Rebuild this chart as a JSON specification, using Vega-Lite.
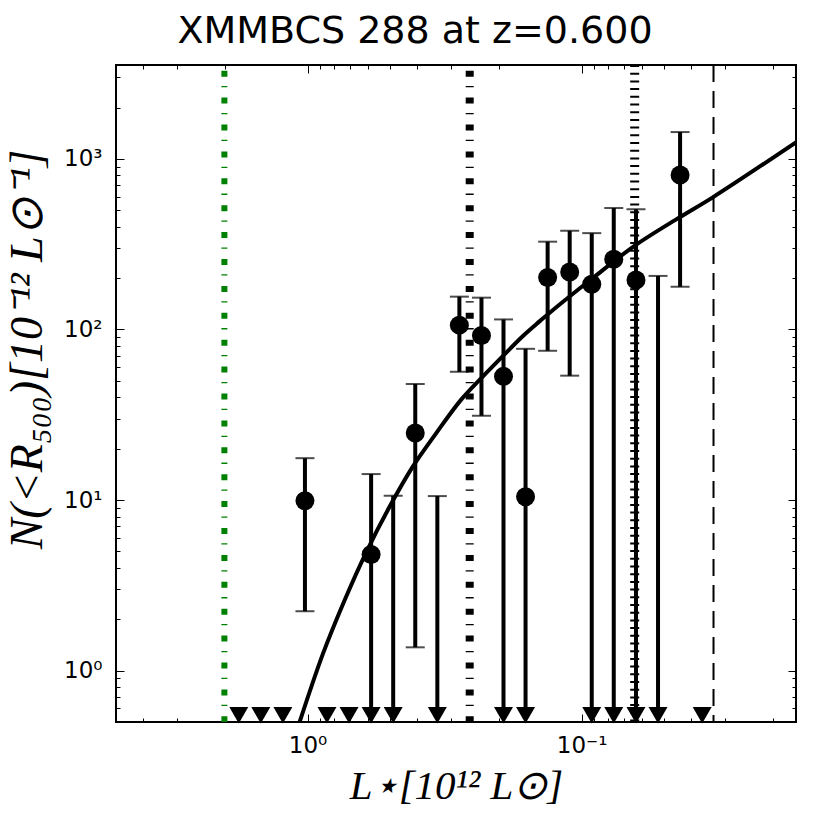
{
  "$schema": "https://vega.github.io/schema/vega-lite/v6.json",
  "autosize": {"type": "none"},
  "width": 680,
  "height": 657,
  "padding": {"left": 116, "top": 65, "right": 34, "bottom": 108},
  "background": "white",
  "config": {"view": {"stroke": "black", "strokeWidth": 2}},
  "title": {"text": "XMMBCS 288 at z=0.600", "font": "DejaVu Sans", "fontSize": 38, "fontWeight": "normal", "color": "black", "anchor": "middle", "frame": "group", "dx": -41, "dy": 40, "offset": 20, "baseline": "alphabetic"},
  "datasets": {
    "bins": [
      {"L": 1.782, "N": null, "lo": 0.547, "hi": null, "arrow": true},
      {"L": 1.481, "N": null, "lo": 0.547, "hi": null, "arrow": true},
      {"L": 1.230, "N": null, "lo": 0.547, "hi": null, "arrow": true},
      {"L": 1.022, "N": 9.9, "lo": 2.23, "hi": 17.6, "arrow": false},
      {"L": 0.8492, "N": null, "lo": 0.547, "hi": null, "arrow": true},
      {"L": 0.7055, "N": null, "lo": 0.547, "hi": null, "arrow": true},
      {"L": 0.5861, "N": 4.8, "lo": 0.547, "hi": 14.2, "arrow": true},
      {"L": 0.4869, "N": null, "lo": 0.547, "hi": 10.6, "arrow": true},
      {"L": 0.4045, "N": 24.7, "lo": 1.37, "hi": 47.9, "arrow": false},
      {"L": 0.3360, "N": null, "lo": 0.547, "hi": 10.55, "arrow": true},
      {"L": 0.2792, "N": 106, "lo": 56.5, "hi": 155.7, "arrow": false},
      {"L": 0.2319, "N": 92.2, "lo": 31.2, "hi": 153.6, "arrow": false},
      {"L": 0.1927, "N": 53.1, "lo": 0.547, "hi": 114.5, "arrow": true},
      {"L": 0.1601, "N": 10.46, "lo": 0.547, "hi": 77, "arrow": true},
      {"L": 0.1330, "N": 201.5, "lo": 75, "hi": 327, "arrow": false},
      {"L": 0.1105, "N": 217, "lo": 53.6, "hi": 379, "arrow": false},
      {"L": 0.0918, "N": 184.3, "lo": 0.547, "hi": 367, "arrow": true},
      {"L": 0.0763, "N": 258, "lo": 0.547, "hi": 515, "arrow": true},
      {"L": 0.0633, "N": 195, "lo": 0.547, "hi": 506, "arrow": true},
      {"L": 0.0526, "N": null, "lo": 0.547, "hi": 206, "arrow": true},
      {"L": 0.0437, "N": 805, "lo": 178, "hi": 1436, "arrow": false},
      {"L": 0.0363, "N": null, "lo": 0.547, "hi": null, "arrow": true}
    ],
    "fit": [
      {"L": 1.07, "N": 0.497},
      {"L": 0.879, "N": 1.254},
      {"L": 0.733, "N": 2.58},
      {"L": 0.614, "N": 4.86},
      {"L": 0.502, "N": 9.13},
      {"L": 0.413, "N": 15.7},
      {"L": 0.339, "N": 24.7},
      {"L": 0.275, "N": 38.8},
      {"L": 0.229, "N": 53.1},
      {"L": 0.194, "N": 69.7},
      {"L": 0.164, "N": 91.3},
      {"L": 0.142, "N": 111.9},
      {"L": 0.133, "N": 122.5},
      {"L": 0.0922, "N": 196.8},
      {"L": 0.0641, "N": 309},
      {"L": 0.0439, "N": 454},
      {"L": 0.0332, "N": 595},
      {"L": 0.01646, "N": 1254}
    ]
  },
  "layer": [
    {
      "data": {"values": [{"L": 2.011}]},
      "mark": {"type": "rule", "color": "#008000", "strokeWidth": 6, "strokeDash": [6, 9.3, 1.3, 10.3], "strokeDashOffset": 21.2, "strokeCap": "butt"},
      "encoding": {
        "x": {"field": "L", "type": "quantitative", "scale": {"type": "log", "domain": [0.0165, 5], "reverse": true, "nice": false}, "axis": null}
      }
    },
    {
      "data": {"values": [{"L": 0.256}]},
      "mark": {"type": "rule", "color": "black", "strokeWidth": 8, "strokeDash": [6, 9.3, 1.3, 10.3], "strokeDashOffset": 21.2, "strokeCap": "butt"},
      "encoding": {"x": {"field": "L", "type": "quantitative", "axis": null}}
    },
    {
      "data": {"values": [{"L": 0.064}]},
      "mark": {"type": "rule", "color": "black", "strokeWidth": 9, "strokeDash": [2, 5.7], "strokeCap": "butt"},
      "encoding": {"x": {"field": "L", "type": "quantitative", "axis": null}}
    },
    {
      "data": {"values": [{"L": 0.033}]},
      "mark": {"type": "rule", "color": "black", "strokeWidth": 2, "strokeDash": [17, 9], "strokeCap": "butt"},
      "encoding": {"x": {"field": "L", "type": "quantitative", "axis": null}}
    },
    {
      "data": {"name": "fit"},
      "mark": {"type": "line", "color": "black", "strokeWidth": 4, "clip": true, "interpolate": "catmull-rom"},
      "encoding": {
        "x": {"field": "L", "type": "quantitative", "axis": null},
        "y": {"field": "N", "type": "quantitative", "scale": {"type": "log", "domain": [0.5, 3550], "nice": false}, "axis": null}
      }
    },
    {
      "data": {"name": "bins"},
      "transform": [{"filter": "datum.hi != null"}],
      "mark": {"type": "rule", "color": "black", "strokeWidth": 4, "clip": true},
      "encoding": {
        "x": {
          "field": "L", "type": "quantitative",
          "axis": {
            "orient": "bottom",
            "values": [0.02, 0.03, 0.04, 0.05, 0.06, 0.07, 0.08, 0.09, 0.1, 0.2, 0.3, 0.4, 0.5, 0.6, 0.7, 0.8, 0.9, 1, 2, 3, 4, 5],
            "labelExpr": "datum.value == 1 ? '10⁰' : datum.value == 0.1 ? '10⁻¹' : ''",
            "tickSize": {"condition": {"test": "datum.value == 1 || datum.value == 0.1", "value": -8}, "value": -4},
            "tickColor": "black", "tickWidth": 1, "domain": false, "grid": false,
            "labelFont": "DejaVu Sans", "labelFontSize": 23, "labelColor": "black",
            "labelPadding": 20, "labelOverlap": false, "labelFlush": false,
            "title": "L⋆[10¹² L⊙]", "titleFont": "Liberation Serif", "titleFontSize": 41,
            "titleFontStyle": "italic", "titleFontWeight": "normal", "titleColor": "black", "titlePadding": 5
          }
        },
        "y": {
          "field": "lo", "type": "quantitative",
          "axis": {
            "orient": "left",
            "values": [0.5, 0.6, 0.7, 0.8, 0.9, 1, 2, 3, 4, 5, 6, 7, 8, 9, 10, 20, 30, 40, 50, 60, 70, 80, 90, 100, 200, 300, 400, 500, 600, 700, 800, 900, 1000, 2000, 3000],
            "labelExpr": "datum.value == 1 ? '10⁰' : datum.value == 10 ? '10¹' : datum.value == 100 ? '10²' : datum.value == 1000 ? '10³' : ''",
            "tickSize": {"condition": {"test": "datum.value == 1 || datum.value == 10 || datum.value == 100 || datum.value == 1000", "value": -8}, "value": -4},
            "tickColor": "black", "tickWidth": 1, "domain": false, "grid": false,
            "labelFont": "DejaVu Sans", "labelFontSize": 23, "labelColor": "black",
            "labelPadding": 22, "labelOverlap": false, "labelFlush": false,
            "title": "N(<R₅₀₀)[10⁻¹² L⊙⁻¹]", "titleFont": "Liberation Serif", "titleFontSize": 46,
            "titleFontStyle": "italic", "titleFontWeight": "normal", "titleColor": "black", "titlePadding": 12,
            "titleY": 284
          }
        },
        "y2": {"field": "hi"}
      }
    },
    {
      "data": {"name": "bins"},
      "transform": [{"filter": "datum.hi != null"}],
      "mark": {"type": "tick", "orient": "horizontal", "color": "black", "size": 19, "thickness": 2, "clip": true},
      "encoding": {
        "x": {"field": "L", "type": "quantitative", "axis": null},
        "y": {"field": "hi", "type": "quantitative", "axis": null}
      }
    },
    {
      "data": {"name": "bins"},
      "transform": [{"filter": "datum.hi != null && !datum.arrow"}],
      "mark": {"type": "tick", "orient": "horizontal", "color": "black", "size": 19, "thickness": 2, "clip": true},
      "encoding": {
        "x": {"field": "L", "type": "quantitative", "axis": null},
        "y": {"field": "lo", "type": "quantitative", "axis": null}
      }
    },
    {
      "data": {"name": "bins"},
      "transform": [{"filter": "datum.N != null"}],
      "mark": {"type": "point", "shape": "circle", "filled": true, "color": "black", "opacity": 1, "size": 361},
      "encoding": {
        "x": {
          "field": "L", "type": "quantitative",
          "axis": {
            "orient": "top",
            "values": [0.02, 0.03, 0.04, 0.05, 0.06, 0.07, 0.08, 0.09, 0.1, 0.2, 0.3, 0.4, 0.5, 0.6, 0.7, 0.8, 0.9, 1, 2, 3, 4, 5],
            "labels": false, "title": null, "domain": false, "grid": false,
            "tickSize": {"condition": {"test": "datum.value == 1 || datum.value == 0.1", "value": -8}, "value": -4},
            "tickColor": "black", "tickWidth": 1
          }
        },
        "y": {
          "field": "N", "type": "quantitative",
          "axis": {
            "orient": "right",
            "values": [0.5, 0.6, 0.7, 0.8, 0.9, 1, 2, 3, 4, 5, 6, 7, 8, 9, 10, 20, 30, 40, 50, 60, 70, 80, 90, 100, 200, 300, 400, 500, 600, 700, 800, 900, 1000, 2000, 3000],
            "labels": false, "title": null, "domain": false, "grid": false,
            "tickSize": {"condition": {"test": "datum.value == 1 || datum.value == 10 || datum.value == 100 || datum.value == 1000", "value": -8}, "value": -4},
            "tickColor": "black", "tickWidth": 1
          }
        }
      }
    },
    {
      "data": {"name": "bins"},
      "transform": [{"filter": "datum.arrow"}],
      "mark": {"type": "point", "shape": "triangle-down", "filled": true, "color": "black", "opacity": 1, "size": 361},
      "encoding": {
        "x": {"field": "L", "type": "quantitative", "axis": null},
        "y": {"field": "lo", "type": "quantitative", "axis": null}
      }
    }
  ],
  "resolve": {"axis": {"x": "independent", "y": "independent"}}
}
